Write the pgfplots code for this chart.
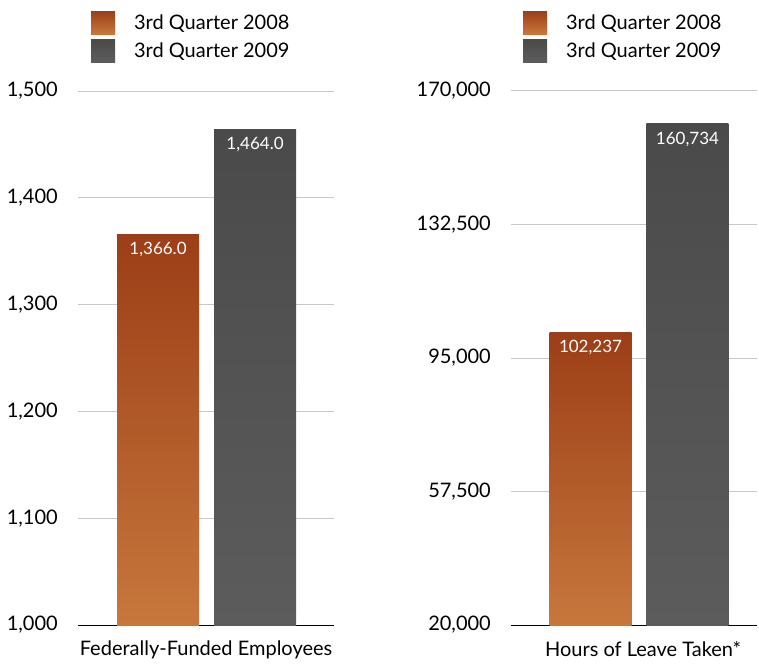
\documentclass[border=0pt]{standalone}
\usepackage{pgfplots}
\pgfplotsset{compat=1.18}
\usepackage{fontspec}
\setmainfont{Lato}
\definecolor{oTop}{HTML}{9C3E17}
\definecolor{oBot}{HTML}{C7773C}
\definecolor{gTop}{HTML}{4A4A4A}
\definecolor{gBot}{HTML}{5C5C5C}
\definecolor{gridc}{HTML}{C8C8C8}
\pgfplotsset{
  panel/.style={
    scale only axis, height=534pt,
    axis x line*=bottom, axis y line*=left,
    y axis line style={draw=none},
    x axis line style={black, line width=1pt, -},
    ymajorgrids, grid style={gridc, line width=1pt},
    major tick length=0pt,
    xtick=\empty,
    scaled y ticks=false,
    yticklabel style={inner sep=0pt, xshift=-20pt, font=\fontsize{20}{20}\selectfont},
    xlabel style={inner sep=0pt, anchor=north, font=\fontsize{20}{20}\selectfont},
    ybar, bar width=82pt,
    every axis plot/.append style={bar shift=0pt, draw=none},
    nodes near coords,
    nodes near coords style={text=white, anchor=north, inner sep=0pt, yshift=-8pt, font=\fontsize{17}{17}\selectfont},
    legend style={draw=none, fill=none, inner sep=0pt, outer sep=0pt, row sep=5pt,
      font=\fontsize{20}{20}\selectfont, nodes={inner sep=0pt},
      /tikz/every odd column/.style={column sep=19pt}},
    legend cell align=left,
    legend image code/.code={\path[#1] (0pt,-11.5pt) rectangle (24pt,11.5pt);},
  },
  s08/.style={top color=oTop, bottom color=oBot},
  s09/.style={top color=gTop, bottom color=gBot},
}
\begin{document}
\begin{tikzpicture}
\path[use as bounding box] (0,0) rectangle (759pt,665pt);
\begin{axis}[panel, at={(78pt,40pt)}, anchor=south west, width=256pt,
  xmin=-0.825, xmax=1.814, ymin=1000, ymax=1500,
  ytick={1000,1100,1200,1300,1400,1500},
  yticklabels={{1,000},{1,100},{1,200},{1,300},{1,400},{1,500}},
  xlabel={Federally-Funded Employees},
  xlabel style={at={(axis description cs:0.5,0)}, yshift=-16pt},
  nodes near coords={\pgfmathprintnumber[fixed, fixed zerofill, precision=1, 1000 sep={,}, assume math mode=true]{\pgfplotspointmeta}},
  legend style={at={(axis description cs:0.0508,1.1498)}, anchor=north west},
]
\addplot[s08] coordinates {(0,1366.0)};
\addplot[s09] coordinates {(1,1464.0)};
\legend{3rd Quarter 2008, 3rd Quarter 2009}
\end{axis}
\begin{axis}[panel, at={(511pt,40pt)}, anchor=south west, width=246pt,
  xmin=-0.82, xmax=1.717, ymin=20000, ymax=170000,
  ytick={20000,57500,95000,132500,170000},
  yticklabels={{20,000},{57,500},{95,000},{132,500},{170,000}},
  xlabel={Hours of Leave Taken*},
  xlabel style={at={(axis description cs:0.537,0)}, yshift=-16pt},
  nodes near coords={\pgfmathprintnumber[fixed, precision=0, 1000 sep={,}, assume math mode=true]{\pgfplotspointmeta}},
  legend style={at={(axis description cs:0.0488,1.1498)}, anchor=north west},
]
\addplot[s08] coordinates {(0,102237)};
\addplot[s09] coordinates {(1,160734)};
\legend{3rd Quarter 2008, 3rd Quarter 2009}
\end{axis}
\end{tikzpicture}
\end{document}
